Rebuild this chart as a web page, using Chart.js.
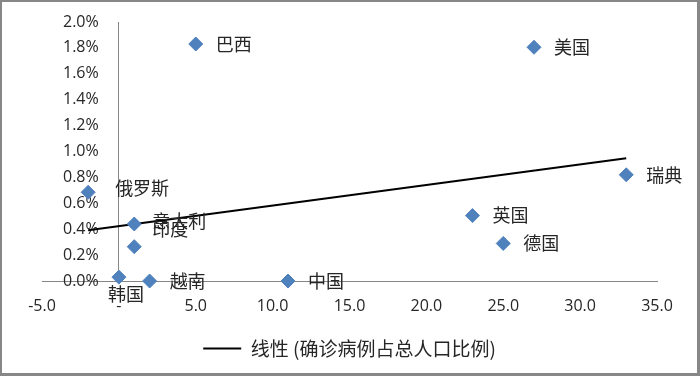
<!DOCTYPE html>
<html>
<head>
<meta charset="utf-8">
<script src="https://cdn.jsdelivr.net/npm/chart.js@4"></script>
<style>
  body { margin: 0; background: #fff; }
  #wrap { position: relative; width: 700px; height: 376px; }
  #frame { position: absolute; left: 0; top: 0; width: 700px; height: 376px; box-sizing: border-box;
           border: solid #878787; border-width: 2px 3px 3px 2px; pointer-events: none; }
</style>
</head>
<body>
<div id="wrap">
  <canvas id="chart" width="700" height="376"></canvas>
  <div id="frame"></div>
</div>
<script>
// values
const countries = ['巴西', '美国', '瑞典', '俄罗斯', '意大利', '印度', '韩国', '越南', '中国', '英国', '德国'];
const xValues = [5, 27, 33, -2, 1, 1, 0, 2, 11, 23, 25];
const yValues = [1.83, 1.805, 0.82, 0.685, 0.44, 0.265, 0.03, 0.0, 0.0, 0.505, 0.29];
const trendLabel = '线性 (确诊病例占总人口比例)';

// least squares trend line, as the spreadsheet does it
const n = xValues.length;
const mx = xValues.reduce((a, b) => a + b, 0) / n;
const my = yValues.reduce((a, b) => a + b, 0) / n;
let sxy = 0, sxx = 0;
xValues.forEach((x, i) => { sxy += (x - mx) * (yValues[i] - my); sxx += (x - mx) * (x - mx); });
const slope = sxy / sxx;
const icept = my - slope * mx;
const xMin = Math.min(...xValues), xMax = Math.max(...xValues);

// label offsets from the marker (dx, dy, align)
const labelShift = {
  '俄罗斯': [27, -4, 'left'],
  '意大利': [18, -3, 'left'],
  '印度': [18, -18, 'left'],
  '韩国': [7, 17, 'center']
};

const pointLabels = {
  id: 'pointLabels',
  afterDatasetsDraw(chart) {
    const ctx = chart.ctx;
    const meta = chart.getDatasetMeta(0);
    ctx.save();
    ctx.font = '18px "Noto Sans CJK SC"';
    ctx.fillStyle = '#262626';
    ctx.textBaseline = 'middle';
    meta.data.forEach((pt, i) => {
      const s = labelShift[countries[i]] || [20, 0, 'left'];
      ctx.textAlign = s[2];
      ctx.fillText(countries[i], pt.x + s[0], pt.y + s[1]);
    });
    ctx.restore();
  }
};

const axisGray = '#868686';

new Chart(document.getElementById('chart'), {
  type: 'scatter',
  data: {
    datasets: [
      {
        label: '确诊病例占总人口比例',
        data: xValues.map((x, i) => ({ x: x, y: yValues[i] })),
        pointStyle: 'rectRot',
        pointRadius: 7,
        pointBackgroundColor: '#4F81BD',
        pointBorderColor: '#4F81BD',
        pointBorderWidth: 1,
        clip: false
      },
      {
        type: 'line',
        label: trendLabel,
        data: [{ x: xMin, y: icept + slope * xMin }, { x: xMax, y: icept + slope * xMax }],
        borderColor: '#000',
        backgroundColor: '#000',
        borderWidth: 2,
        pointRadius: 0,
        pointStyle: 'line',
        clip: false
      }
    ]
  },
  options: {
    responsive: false,
    animation: false,
    devicePixelRatio: 1,
    layout: { padding: { left: 42, top: 22, right: 43, bottom: 8 } },
    scales: {
      x: {
        type: 'linear',
        min: -5,
        max: 35,
        ticks: {
          stepSize: 5,
          padding: 16,
          color: '#262626',
          font: { family: '"Open Sans"', size: 16 },
          callback: v => v === 0 ? '-' : v.toFixed(1)
        },
        grid: {
          drawTicks: false,
          color: c => (c.tick && c.tick.value === 0) ? axisGray : 'transparent'
        },
        border: { color: axisGray },
        afterFit: s => { s.height = 50; }
      },
      y: {
        min: 0,
        max: 2,
        ticks: {
          stepSize: 0.2,
          mirror: true,
          padding: 21,
          color: '#262626',
          font: { family: '"Open Sans"', size: 16 },
          callback: v => v.toFixed(1) + '%'
        },
        grid: { display: false, drawTicks: false },
        border: { display: false },
        afterFit: s => { s.width = 0; s.paddingTop = 0; s.paddingBottom = 0; }
      }
    },
    plugins: {
      legend: {
        position: 'bottom',
        labels: {
          filter: item => item.datasetIndex === 1,
          usePointStyle: true,
          pointStyle: 'line',
          pointStyleWidth: 38,
          padding: 8,
          color: '#262626',
          font: { family: '"Noto Sans CJK SC"', size: 19 }
        }
      },
      tooltip: { enabled: false }
    }
  },
  plugins: [pointLabels]
});
</script>
</body>
</html>
